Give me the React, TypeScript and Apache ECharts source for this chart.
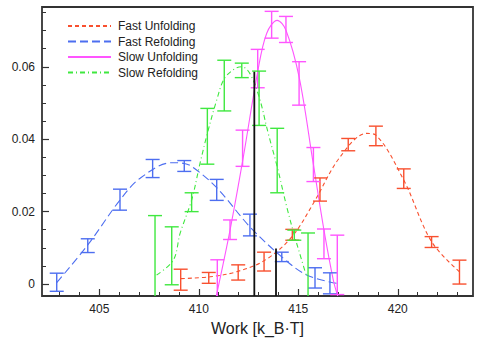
import React, { useEffect, useRef } from "react";
import * as echarts from "echarts";

// ---------- data ----------
const seriesNames = ["Fast Unfolding", "Fast Refolding", "Slow Unfolding", "Slow Refolding"];

// Fast Unfolding (error bars)
const fuX = [409.09, 410.5, 411.98, 413.28, 414.7, 416.09, 417.51, 418.9, 420.3, 421.7, 423.1];
const fuY = [0.0012, 0.0017, 0.0032, 0.0062, 0.0136, 0.0261, 0.0385, 0.0409, 0.0291, 0.0116, 0.0033];
const fuE = [0.0029, 0.0015, 0.0021, 0.0026, 0.0015, 0.0032, 0.0017, 0.0027, 0.0027, 0.0015, 0.0033];
// Fast Unfolding (fit curve)
const fuFitX = [409.1, 410.56, 411.9, 413.33, 414.67, 415.76, 417.1, 418.44, 418.9, 420.3, 421.7, 423.1];
const fuFitY = [0.0015, 0.002, 0.0034, 0.0066, 0.013, 0.0223, 0.0351, 0.0416, 0.0411, 0.0287, 0.0117, 0.0034];

// Fast Refolding
const frX = [402.86, 404.42, 406.04, 407.68, 409.27, 410.9, 412.57, 414.17, 415.84, 416.59];
const frY = [0.0005, 0.0106, 0.0233, 0.0319, 0.0326, 0.026, 0.0163, 0.0075, 0.0017, 0.0002];
const frE = [0.0025, 0.0019, 0.0029, 0.0025, 0.0015, 0.0029, 0.003, 0.0013, 0.0028, 0.0029];
const frFitX = [402.86, 404.42, 406.04, 407.05, 408.64, 409.27, 409.72, 410.9, 412.57, 414.17, 415.42, 416.93];
const frFitY = [0.0004, 0.0108, 0.0232, 0.0292, 0.0335, 0.0333, 0.0322, 0.0266, 0.0158, 0.0075, 0.0025, 0.0002];

// Slow Unfolding
const suX = [410.93, 411.57, 412.2, 412.96, 413.66, 414.38, 415.04, 415.76, 416.29, 416.96];
const suY = [0.0, 0.015, 0.0375, 0.0595, 0.0716, 0.0703, 0.0554, 0.033, 0.0111, 0.0053];
const suE = [0.0067, 0.0027, 0.005, 0.0053, 0.0037, 0.0036, 0.006, 0.0047, 0.0041, 0.0082];
const suFitX = [410.88, 411.57, 412.21, 412.96, 413.41, 413.94, 414.38, 415.04, 415.75, 416.29, 416.76, 416.98];
const suFitY = [-0.0033, 0.0149, 0.0342, 0.0586, 0.0692, 0.0728, 0.0701, 0.0572, 0.0333, 0.0149, 0.0011, -0.0033];

// Slow Refolding
const srX = [407.8, 408.64, 409.64, 410.43, 411.28, 412.16, 413.03, 413.94, 414.8, 415.49];
const srY = [0.002, 0.0078, 0.0226, 0.0408, 0.0548, 0.059, 0.0513, 0.0341, 0.0135, 0.002];
const srE = [0.0169, 0.008, 0.0026, 0.0077, 0.007, 0.002, 0.0075, 0.0089, 0.0014, 0.0121];
const srFitX = [407.88, 408.72, 409.06, 409.64, 410.06, 410.43, 410.9, 411.28, 411.82, 412.16, 412.57, 413.03, 413.49, 413.94, 414.42, 414.8, 415.17, 415.42];
const srFitY = [0.0025, 0.0066, 0.014, 0.0232, 0.0333, 0.0416, 0.0508, 0.0567, 0.0595, 0.06, 0.0581, 0.0517, 0.0416, 0.0324, 0.0213, 0.0135, 0.0066, 0.002];

// vertical markers
const markerX = [412.79, 413.88];
const markerTop = [0.0586, 0.0098];

// axes
const xMin = 402.12;
const xMax = 423.78;
const yMin = -0.0033;
const yMax = 0.0765;
const xMajor = [405, 410, 415, 420];
const xMinor = [403, 404, 405, 406, 407, 408, 409, 410, 411, 412, 413, 414, 415, 416, 417, 418, 419, 420, 421, 422, 423];
const yMajor = [0, 0.02, 0.04, 0.06];
const yMinor = [0, 0.005, 0.01, 0.015, 0.02, 0.025, 0.03, 0.035, 0.04, 0.045, 0.05, 0.055, 0.06, 0.065, 0.07, 0.075];

const colors = ["#f8502f", "#4d6ef0", "#ff55ff", "#3fe83f"];
const dashes: any[] = [[4, 3], [8, 4], "solid", [5, 3, 1, 3]];

const FONT = "'Liberation Sans', Arial, Helvetica, sans-serif";

function errRender(color: string) {
  return (params: any, api: any) => {
    const x = api.value(0);
    const y = api.value(1);
    const e = api.value(2);
    const top = api.coord([x, y + e]);
    const bot = api.coord([x, y - e]);
    const cs = params.coordSys;
    const yT = Math.max(top[1], cs.y);
    const yB = Math.min(bot[1], cs.y + cs.height);
    const hw = 7;
    const style = { stroke: color, lineWidth: 1.4 };
    const children: any[] = [
      { type: "line", shape: { x1: top[0], y1: yT, x2: top[0], y2: yB }, style },
    ];
    if (top[1] >= cs.y) {
      children.push({ type: "line", shape: { x1: top[0] - hw, y1: top[1], x2: top[0] + hw, y2: top[1] }, style });
    }
    if (bot[1] <= cs.y + cs.height) {
      children.push({ type: "line", shape: { x1: bot[0] - hw, y1: bot[1], x2: bot[0] + hw, y2: bot[1] }, style });
    }
    return { type: "group", children };
  };
}

function markerRender(params: any, api: any) {
  const x = api.value(0);
  const t = api.value(1);
  const p = api.coord([x, t]);
  const cs = params.coordSys;
  return {
    type: "line",
    shape: { x1: p[0], y1: p[1], x2: p[0], y2: cs.y + cs.height },
    style: { stroke: "#111", lineWidth: 1.8 },
  };
}

export default function App() {
  const ref = useRef<HTMLDivElement>(null);
  useEffect(() => {
    if (!ref.current) return;
    const chart = echarts.init(ref.current, undefined, { renderer: "svg" });
    const errSets = [
      [fuX, fuY, fuE],
      [frX, frY, frE],
      [suX, suY, suE],
      [srX, srY, srE],
    ];
    const fitSets = [
      [fuFitX, fuFitY],
      [frFitX, frFitY],
      [suFitX, suFitY],
      [srFitX, srFitY],
    ];
    const series: any[] = [];
    errSets.forEach((s, k) => {
      series.push({
        type: "custom",
        name: seriesNames[k] + " bars",
        renderItem: errRender(colors[k]),
        data: s[0].map((x, i) => [x, s[1][i], s[2][i]]),
        encode: { x: 0, y: 1 },
        z: 3,
      });
    });
    fitSets.forEach((s, k) => {
      series.push({
        type: "line",
        name: seriesNames[k],
        data: s[0].map((x, i) => [x, s[1][i]]),
        smooth: 0.35,
        symbol: "none",
        clip: true,
        lineStyle: { color: colors[k], width: 1.1, type: dashes[k] },
        itemStyle: { color: colors[k] },
        z: 2,
      });
    });
    series.push({
      type: "custom",
      name: "markers",
      renderItem: markerRender,
      data: markerX.map((x, i) => [x, markerTop[i]]),
      encode: { x: 0, y: 1 },
      z: 4,
    });

    const axisCommon = {
      type: "value",
      splitLine: { show: false },
      axisLine: { show: false, onZero: false },
    };

    chart.setOption({
      animation: false,
      backgroundColor: "#ffffff",
      textStyle: { fontFamily: FONT },
      grid: {
        left: 42,
        top: 7,
        right: 7,
        bottom: 43,
        show: true,
        borderColor: "#333",
        borderWidth: 1.8,
        backgroundColor: "transparent",
        containLabel: false,
        outerBoundsMode: "none",
      },
      legend: {
        data: seriesNames,
        orient: "vertical",
        left: 62,
        top: 15,
        itemWidth: 43,
        itemHeight: 14,
        itemGap: 3.5,
        itemStyle: { opacity: 0 },
        textStyle: { fontSize: 12, color: "#222", fontFamily: FONT, padding: [0, 0, 0, 2] },
        selectedMode: false,
      },
      xAxis: [
        {
          ...axisCommon,
          min: xMin,
          max: xMax,
          position: "bottom",
          axisTick: { show: true, inside: true, length: 7, customValues: xMajor, lineStyle: { color: "#333", width: 1.2 } },
          axisLabel: { customValues: xMajor, fontSize: 12, color: "#222", margin: 7, fontFamily: FONT },
          name: "Work [k_B·T]",
          nameLocation: "middle",
          nameGap: 24,
          nameTextStyle: { fontSize: 16, color: "#222", fontFamily: FONT },
        },
        {
          ...axisCommon,
          min: xMin,
          max: xMax,
          position: "bottom",
          axisTick: { show: true, inside: true, length: 4, customValues: xMinor, lineStyle: { color: "#333", width: 1 } },
          axisLabel: { show: false },
        },
      ],
      yAxis: [
        {
          ...axisCommon,
          min: yMin,
          max: yMax,
          position: "left",
          axisTick: { show: true, inside: true, length: 7, customValues: yMajor, lineStyle: { color: "#333", width: 1.2 } },
          axisLabel: { customValues: yMajor, fontSize: 12, color: "#222", margin: 7, fontFamily: FONT },
        },
        {
          ...axisCommon,
          min: yMin,
          max: yMax,
          position: "left",
          axisTick: { show: true, inside: true, length: 4, customValues: yMinor, lineStyle: { color: "#333", width: 1 } },
          axisLabel: { show: false },
        },
      ],
      series,
    });
    return () => chart.dispose();
  }, []);
  return (
    <div
      ref={ref}
      style={{ position: "fixed", left: 0, top: 0, width: 480, height: 339, background: "#fff" }}
    />
  );
}
